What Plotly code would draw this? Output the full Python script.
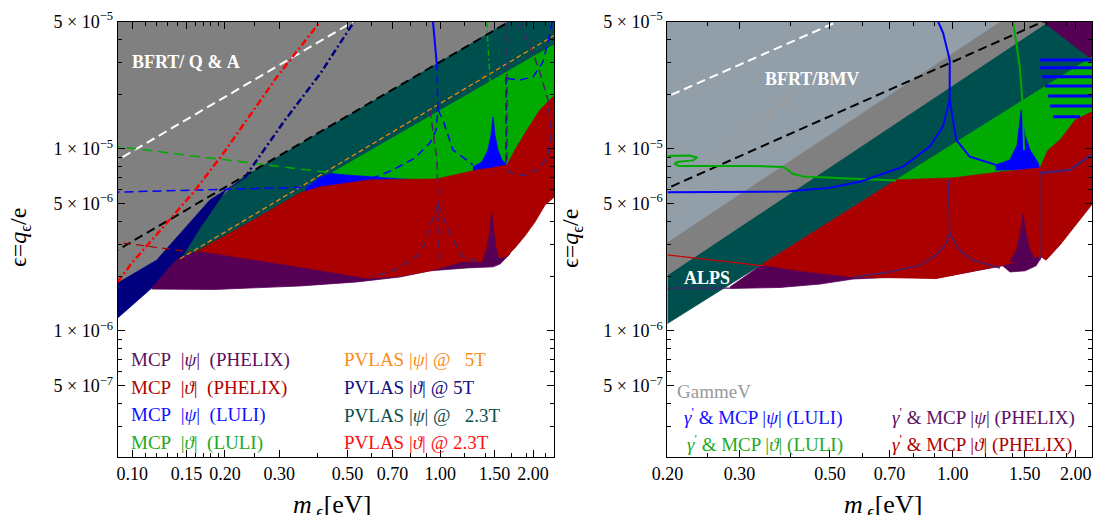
import plotly.graph_objects as go

# ======================= LEFT PANEL =======================
# filled regions: m [eV] and eps = q_eps/e (polygon vertices)
bfrt_qa_m = [0.08, 1.99, 0.2288, 0.1856, 0.1429, 0.0897, 0.08]
bfrt_qa_eps = [6e-5, 6e-5, 7.02e-6, 4.92e-6, 3.16e-6, 1.48e-6, 1.48e-6]

pvlas_psi23_m = [1.99, 2.6, 2.6, 0.445, 0.4069, 0.2411, 0.1562, 0.1376, 0.1212, 0.1185, 0.1277, 0.1539, 0.1856, 0.2288]
pvlas_psi23_eps = [6e-5, 6e-5, 4.14e-5, 7.38e-6, 5.95e-6, 3.78e-6, 2.52e-6, 1.91e-6, 1.77e-6, 1.835e-6, 2.11e-6, 3.16e-6, 5.05e-6, 7.02e-6]

pvlas_th5_m = [0.0847, 0.0897, 0.120, 0.1788, 0.2322, 0.2015, 0.1659, 0.1429, 0.1277, 0.1156, 0.0897, 0.0847]
pvlas_th5_eps = [1.734e-6, 1.835e-6, 2.45e-6, 5.25e-6, 6.93e-6, 5.95e-6, 3.68e-6, 2.45e-6, 1.95e-6, 1.72e-6, 1.179e-6, 1.079e-6]

luli_th_m = [0.445, 2.6, 2.6, 2.322, 2.107, 1.912, 1.748, 1.647, 1.472, 1.3157, 0.9757, 0.5913, 0.445]
luli_th_eps = [7.38e-6, 4.14e-5, 1.5e-5, 1.81e-5, 1.54e-5, 1.19e-5, 9.27e-6, 7.67e-6, 7.38e-6, 7.20e-6, 6.42e-6, 6.34e-6, 6.34e-6]

luli_psi_a_m = [0.3637, 0.4069, 0.445, 0.4905, 0.6047, 0.7397, 0.9757, 0.9757, 0.3637]
luli_psi_a_eps = [6.03e-6, 6.97e-6, 7.33e-6, 7.20e-6, 7.02e-6, 6.84e-6, 6.67e-6, 6.26e-6, 5.80e-6]
luli_psi_b_m = [1.277, 1.3655, 1.428, 1.4605, 1.483, 1.505, 1.539, 1.586, 1.647, 1.647, 1.277]
luli_psi_b_eps = [7.96e-6, 8.48e-6, 9.87e-6, 1.19e-5, 1.50e-5, 1.19e-5, 9.87e-6, 8.70e-6, 8.17e-6, 7.47e-6, 7.47e-6]

phelix_psi_m = [0.1156, 0.1386, 0.1539, 0.2411, 1.562, 1.684, 1.684, 1.562, 1.483, 1.221, 0.926, 0.7397, 0.5366, 0.3504, 0.1843, 0.1156]
phelix_psi_eps = [1.717e-6, 2.45e-6, 2.65e-6, 3.37e-6, 5.25e-6, 3.59e-6, 2.65e-6, 2.33e-6, 2.25e-6, 2.22e-6, 2.14e-6, 1.98e-6, 1.86e-6, 1.767e-6, 1.69e-6, 1.70e-6]

phelix_th_m = [0.1586, 0.2411, 0.3504, 0.4069, 0.5913, 0.9757, 1.3157, 1.472, 1.647, 1.748, 1.912, 2.107, 2.322, 2.54,
               2.54, 2.345, 2.188, 2.030, 1.884, 1.748, 1.647, 1.505, 1.345, 1.194, 0.926, 0.7397, 0.5825, 0.3504, 0.2411, 0.1659]
phelix_th_eps = [2.68e-6, 3.97e-6, 5.73e-6, 6.18e-6, 6.76e-6, 6.84e-6, 7.67e-6, 7.86e-6, 8.17e-6, 9.87e-6, 1.27e-5, 1.64e-5, 1.93e-5, 2.00e-5,
                 5.95e-6, 5.45e-6, 4.92e-6, 3.97e-6, 3.33e-6, 2.86e-6, 2.58e-6, 2.49e-6, 2.39e-6, 2.42e-6, 2.14e-6, 2.00e-6, 1.95e-6, 2.25e-6, 2.49e-6, 2.75e-6]

phelix_psi_spike_m = [1.3655, 1.418, 1.450, 1.4686, 1.489, 1.516, 1.562]
phelix_psi_spike_eps = [2.36e-6, 2.86e-6, 3.59e-6, 4.51e-6, 3.59e-6, 2.86e-6, 2.36e-6]

# boundary lines (left)
bfrt_line_m, bfrt_line_eps = [0.085, 0.55], [8.25e-6, 5.27e-5]
black_line_m, black_line_eps = [0.085, 1.70], [2.645e-6, 5.08e-5]
pvlas_th23_line_m = [0.0897, 0.1005, 0.1597, 0.197, 0.295, 0.4069]
pvlas_th23_line_eps = [1.86e-6, 2.40e-6, 5.9e-6, 9.4e-6, 2.49e-5, 4.99e-5]
pvlas_th5_line_m = [0.2322, 0.2411, 0.3132, 0.4069, 0.5245]
pvlas_th5_line_eps = [6.93e-6, 7.67e-6, 1.44e-5, 2.58e-5, 4.99e-5]
luli_th_line_m, luli_th_line_eps = [0.085, 0.445], [1.042e-5, 7.38e-6]
luli_psi_line_m, luli_psi_line_eps = [0.085, 0.3692], [5.78e-6, 6.16e-6]
pvlas_psi5_line_m, pvlas_psi5_line_eps = [0.1429, 2.357], [2.49e-6, 4.23e-5]
phelix_th_line_m, phelix_th_line_eps = [0.085, 0.1539], [3.11e-6, 2.72e-6]
luli_psi_res_top_m, luli_psi_res_top_eps = [0.947, 0.9735], [4.99e-5, 2.97e-5]
luli_psi_res1_m = [0.9735, 0.9829, 0.9683, 0.926, 0.8277, 0.7022, 0.6047]
luli_psi_res1_eps = [2.97e-5, 1.64e-5, 1.27e-5, 1.08e-5, 8.92e-6, 7.67e-6, 6.93e-6]
luli_psi_res2_m, luli_psi_res2_eps = [0.9829, 1.0203, 1.0995, 1.277], [1.64e-5, 1.44e-5, 9.87e-6, 8.17e-6]
luli_psi_res3_m, luli_psi_res3_eps = [1.634, 1.634], [2.49e-5, 8.07e-6]
luli_psi_res4_m = [1.647, 1.815, 2.0, 2.155, 2.271, 2.306]
luli_psi_res4_eps = [2.44e-5, 2.39e-5, 2.49e-5, 3.01e-5, 4.34e-5, 4.99e-5]
phelix_res1_m = [0.926, 0.947, 0.9757, 0.9829, 0.9829]
phelix_res1_eps = [1.64e-5, 1.27e-5, 8.70e-6, 4.92e-6, 2.3e-6]
phelix_res2_m = [0.9829, 0.947, 0.8919, 0.834, 0.7126, 0.5957]
phelix_res2_eps = [4.92e-6, 4.23e-6, 3.04e-6, 2.55e-6, 2.16e-6, 1.98e-6]
phelix_res3_m = [0.9829, 1.0203, 1.0995, 1.185, 1.345]
phelix_res3_eps = [4.92e-6, 4.23e-6, 3.16e-6, 2.55e-6, 2.39e-6]
phelix_res4_m, phelix_res4_eps = [1.647, 1.647], [5e-5, 8.17e-6]
phelix_res5_m = [1.647, 1.748, 1.912, 2.107, 2.237, 2.288, 2.237, 2.107, 1.956, 1.774]
phelix_res5_eps = [7.67e-6, 7.20e-6, 7.20e-6, 7.86e-6, 9.27e-6, 1.19e-5, 1.86e-5, 2.62e-5, 3.73e-5, 4.99e-5]
luli_th_res_m, luli_th_res_eps = [1.4145, 1.4686], [4.99e-5, 1.64e-5]

# ======================= RIGHT PANEL =======================
gammev_m, gammev_eps = [0.18, 1.9375, 0.18], [6e-5, 6e-5, 1.735e-6]
bfrt_bmv_m, bfrt_bmv_eps = [0.18, 1.473, 0.18], [6e-5, 6e-5, 2.64e-6]
alps_m, alps_eps = [0.18, 2.4, 2.4, 0.18], [6e-5, 6e-5, 3.63e-5, 9.48e-7]
r_phx_psi_top_m = [1.66, 1.66, 2.4, 2.4, 2.195]
r_phx_psi_top_eps = [4.99e-5, 6e-5, 6e-5, 3.08e-5, 3.08e-5]
r_luli_th_m = [0.7263, 2.4, 2.4, 1.9953, 1.831, 1.712, 1.636, 1.3036, 1.0011, 0.7263]
r_luli_th_eps = [6.76e-6, 3.63e-5, 1.5e-5, 1.355e-5, 1.05e-5, 9.27e-6, 7.38e-6, 7.02e-6, 6.50e-6, 6.34e-6]
r_luli_psi_m = [1.2735, 1.380, 1.437, 1.470, 1.503, 1.546, 1.6186, 1.636, 1.2735]
r_luli_psi_eps = [8.17e-6, 8.70e-6, 1.05e-5, 1.64e-5, 1.19e-5, 9.87e-6, 8.38e-6, 7.67e-6, 7.67e-6]
r_phx_psi_m = [0.2846, 0.3449, 0.7434, 1.636, 1.655, 1.599, 1.503, 1.380, 1.3254, 0.9099, 0.7434, 0.570, 0.473, 0.3774, 0.2846]
r_phx_psi_eps = [1.745e-6, 2.36e-6, 3.59e-6, 4.07e-6, 2.58e-6, 2.28e-6, 2.14e-6, 2.11e-6, 2.28e-6, 1.95e-6, 1.98e-6, 1.93e-6, 1.81e-6, 1.734e-6, 1.712e-6]
r_phx_th_m = [0.3449, 0.7263, 1.0011, 1.3036, 1.636, 1.712, 1.831, 1.9953, 2.29, 2.29, 2.207, 1.9953, 1.831, 1.692, 1.636, 1.3254, 0.9099, 0.570, 0.4224, 0.3449]
r_phx_th_eps = [2.36e-6, 6.76e-6, 6.93e-6, 7.47e-6, 7.86e-6, 9.87e-6, 1.12e-5, 1.44e-5, 1.68e-5, 5.25e-6, 5.05e-6, 3.82e-6, 2.97e-6, 2.45e-6, 2.58e-6, 2.30e-6, 1.94e-6, 1.98e-6, 2.14e-6, 2.30e-6]
r_phx_psi_spike_m = [1.380, 1.437, 1.470, 1.486, 1.503, 1.538, 1.599]
r_phx_psi_spike_eps = [2.39e-6, 2.86e-6, 3.68e-6, 4.39e-6, 3.68e-6, 2.86e-6, 2.39e-6]
stripe_eps = [3.08e-5, 2.79e-5, 2.49e-5, 2.22e-5, 1.955e-5, 1.72e-5, 1.50e-5]
stripe_m_start = [1.636, 1.636, 1.655, 1.684, 1.712, 1.731, 1.762]
stripe_m_end = [2.3, 2.3, 2.3, 2.3, 2.3, 2.3, 2.051]

r_white_m, r_white_eps = [0.19, 0.54], [1.845e-5, 5.18e-5]
r_black_m, r_black_eps = [0.19, 1.70], [5.78e-6, 5.11e-5]
r_gray_lines_m = [[0.2, 0.3955], [0.2, 0.3993], [0.2, 0.4032]]
r_gray_lines_eps = [[5.38e-6, 1.98e-5], [4.86e-6, 1.98e-5], [4.39e-6, 1.94e-5]]
r_green_line_m = [0.2, 0.2262, 0.2363, 0.2310, 0.2109, 0.2086, 0.2133, 0.3242, 0.3838, 0.3948, 0.4038, 0.4296, 0.5928, 0.7263]
r_green_line_eps = [9.15e-6, 9.21e-6, 8.98e-6, 8.65e-6, 8.48e-6, 8.27e-6, 8.07e-6, 8.07e-6, 7.96e-6, 7.67e-6, 7.33e-6, 7.06e-6, 6.84e-6, 6.71e-6]
r_green_vert_m, r_green_vert_eps = [1.405, 1.459, 1.486, 1.494], [4.99e-5, 2.83e-5, 1.64e-5, 9.87e-6]
r_blue_line_m = [0.2, 0.3919, 0.4968, 0.5928, 0.7557, 0.8781, 0.9465, 0.9827, 0.9827, 0.9465, 0.9203]
r_blue_line_eps = [5.78e-6, 5.83e-6, 6.11e-6, 6.61e-6, 7.99e-6, 1.03e-5, 1.33e-5, 1.86e-5, 3.08e-5, 4.34e-5, 5.0e-5]
r_blue_line2_m, r_blue_line2_eps = [0.9827, 1.0198, 1.0996, 1.2761], [1.86e-5, 1.12e-5, 9.07e-6, 8.17e-6]
r_purple_line_m = [0.9760, 0.9827, 0.9594, 0.9099, 0.8313, 0.6987, 0.570]
r_purple_line_eps = [6.76e-6, 3.46e-6, 2.97e-6, 2.62e-6, 2.30e-6, 2.11e-6, 1.98e-6]
r_purple_line2_m = [0.9827, 1.0011, 1.0484, 1.119, 1.3036]
r_purple_line2_eps = [3.46e-6, 3.16e-6, 2.72e-6, 2.45e-6, 2.22e-6]
r_purple_line3_m, r_purple_line3_eps = [1.6327, 1.6327], [7.38e-6, 2.45e-6]
r_purple_line4_m, r_purple_line4_eps = [1.6327, 1.935, 2.3], [7.38e-6, 7.67e-6, 1.0e-5]
r_red_line_m, r_red_line_eps = [0.19, 0.3449], [2.65e-6, 2.28e-6]
r_purple_line5_m, r_purple_line5_eps = [0.19, 0.2846], [1.717e-6, 1.72e-6]

# axes ticks
x_ticks = [0.1, 0.15, 0.2, 0.3, 0.5, 0.7, 1.0, 1.5, 2.0]
x_tick_text = ["0.10", "0.15", "0.20", "0.30", "0.50", "0.70", "1.00", "1.50", "2.00"]
x_minor = [0.09, 0.11, 0.12, 0.13, 0.14, 0.16, 0.17, 0.18, 0.19, 0.25, 0.4, 0.6, 0.8, 0.9, 1.2, 1.4, 1.7, 1.9, 2.2]
y_ticks = [5e-5, 1e-5, 5e-6, 1e-6, 5e-7]
y_tick_text = ["5 × 10<sup>−5</sup>", "1 × 10<sup>−5</sup>", "5 × 10<sup>−6</sup>", "1 × 10<sup>−6</sup>", "5 × 10<sup>−7</sup>"]
y_minor = [2e-7, 3e-7, 4e-7, 6e-7, 7e-7, 8e-7, 9e-7, 2e-6, 3e-6, 4e-6, 6e-6, 7e-6, 8e-6, 9e-6, 2e-5, 3e-5, 4e-5]

# colours
C_GRAY = "#808080"; C_LIGHT = "#929ea8"; C_TEAL = "#004f4f"; C_NAVY = "#00007f"
C_GREEN = "#00aa00"; C_BLUE = "#0000ff"; C_RED = "#aa0000"; C_PURPLE = "#550055"
C_RES_PURPLE = "#4a2070"

fig = go.Figure()
L = ("x", "y")
R = ("x2", "y2")


def poly(m, e, color, ax):
    fig.add_trace(go.Scatter(x=m, y=e, mode="lines", fill="toself", fillcolor=color,
                             line=dict(width=0.8, color=color), xaxis=ax[0], yaxis=ax[1],
                             hoverinfo="skip", showlegend=False))


def curve(m, e, color, width, ax, dash="solid"):
    fig.add_trace(go.Scatter(x=m, y=e, mode="lines", line=dict(color=color, width=width, dash=dash),
                             xaxis=ax[0], yaxis=ax[1], hoverinfo="skip", showlegend=False))


# ---- left regions
poly(bfrt_qa_m, bfrt_qa_eps, C_GRAY, L)
poly(pvlas_psi23_m, pvlas_psi23_eps, C_TEAL, L)
poly(pvlas_th5_m, pvlas_th5_eps, C_NAVY, L)
poly(luli_th_m, luli_th_eps, C_GREEN, L)
poly(luli_psi_a_m, luli_psi_a_eps, C_BLUE, L)
poly(luli_psi_b_m, luli_psi_b_eps, C_BLUE, L)
poly(phelix_psi_m, phelix_psi_eps, C_PURPLE, L)
poly(phelix_th_m, phelix_th_eps, C_RED, L)
poly(phelix_psi_spike_m, phelix_psi_spike_eps, C_PURPLE, L)

# ---- left lines
DASH = "9px,5px"
curve(bfrt_line_m, bfrt_line_eps, "white", 2, L, DASH)
curve(black_line_m, black_line_eps, "black", 2, L, DASH)
curve(pvlas_psi5_line_m, pvlas_psi5_line_eps, "#ff8c00", 1.2, L, "5px,3px")
curve(luli_th_line_m, luli_th_line_eps, C_GREEN, 1.5, L, "10px,6px")
curve(luli_psi_line_m, luli_psi_line_eps, C_BLUE, 1.5, L, "9px,5px")
curve(phelix_th_line_m, phelix_th_line_eps, C_RED, 1.2, L, "8px,5px")
curve(luli_psi_res_top_m, luli_psi_res_top_eps, C_BLUE, 2, L)
curve(luli_psi_res1_m, luli_psi_res1_eps, C_BLUE, 1.5, L, "8px,5px")
curve(luli_psi_res2_m, luli_psi_res2_eps, C_BLUE, 1.5, L, "8px,5px")
curve(luli_psi_res3_m, luli_psi_res3_eps, C_BLUE, 1.5, L, "8px,5px")
curve(luli_psi_res4_m, luli_psi_res4_eps, C_BLUE, 1.5, L, "8px,5px")
curve(phelix_res1_m, phelix_res1_eps, C_RES_PURPLE, 1.5, L, "8px,5px")
curve(phelix_res2_m, phelix_res2_eps, C_RES_PURPLE, 1.5, L, "8px,5px")
curve(phelix_res3_m, phelix_res3_eps, C_RES_PURPLE, 1.5, L, "8px,5px")
curve(phelix_res4_m, phelix_res4_eps, C_RES_PURPLE, 1.5, L, "8px,5px")
curve(phelix_res5_m, phelix_res5_eps, C_RES_PURPLE, 1.5, L, "8px,5px")
curve(luli_th_res_m, luli_th_res_eps, C_GREEN, 1.5, L, "6px,3px,2px,3px")
curve(pvlas_th23_line_m, pvlas_th23_line_eps, "#ff0000", 2.5, L, "7px,3px,2px,3px")
curve(pvlas_th5_line_m, pvlas_th5_line_eps, "#000080", 2.5, L, "7px,3px,2px,3px")

# ---- right regions
poly(alps_m, alps_eps, C_TEAL, R)
poly(gammev_m, gammev_eps, C_GRAY, R)
poly(bfrt_bmv_m, bfrt_bmv_eps, C_LIGHT, R)
poly(r_phx_psi_top_m, r_phx_psi_top_eps, C_PURPLE, R)
poly(r_luli_th_m, r_luli_th_eps, C_GREEN, R)
poly(r_luli_psi_m, r_luli_psi_eps, C_BLUE, R)
poly(r_phx_psi_m, r_phx_psi_eps, C_PURPLE, R)
poly(r_phx_th_m, r_phx_th_eps, C_RED, R)
poly(r_phx_psi_spike_m, r_phx_psi_spike_eps, C_PURPLE, R)
for e, m0, m1 in zip(stripe_eps, stripe_m_start, stripe_m_end):
    curve([m0, m1], [e, e], C_BLUE, 3, R)

# ---- right lines
curve(r_white_m, r_white_eps, "white", 2, R, DASH)
for gm, ge in zip(r_gray_lines_m, r_gray_lines_eps):
    curve(gm, ge, "#9c9c9c", 1.5, R, "8px,4px")
curve(r_black_m, r_black_eps, "black", 2, R, DASH)
curve(r_green_line_m, r_green_line_eps, C_GREEN, 2, R)
curve(r_green_vert_m, r_green_vert_eps, C_GREEN, 2, R)
curve(r_blue_line_m, r_blue_line_eps, C_BLUE, 2, R)
curve(r_blue_line2_m, r_blue_line2_eps, C_BLUE, 2, R)
curve(r_purple_line_m, r_purple_line_eps, C_RES_PURPLE, 1.5, R)
curve(r_purple_line2_m, r_purple_line2_eps, C_RES_PURPLE, 1.5, R)
curve(r_purple_line3_m, r_purple_line3_eps, C_RES_PURPLE, 1.5, R)
curve(r_purple_line4_m, r_purple_line4_eps, C_RES_PURPLE, 2.5, R)
curve(r_red_line_m, r_red_line_eps, "#cc0000", 1.2, R)
curve(r_purple_line5_m, r_purple_line5_eps, C_RES_PURPLE, 1.2, R)

# ---- axes
SERIF = "Liberation Serif, DejaVu Serif, Times New Roman, serif"
tick_font = dict(family=SERIF, size=18, color="black")
common = dict(type="log", showline=True, linecolor="black", linewidth=1, mirror="allticks",
              ticks="inside", ticklen=7, tickwidth=1, tickcolor="black", showgrid=False,
              zeroline=False, tickfont=tick_font, automargin=False)
xcommon = dict(tickmode="array", tickvals=x_ticks, ticktext=x_tick_text,
               minor=dict(tickmode="array", tickvals=x_minor, ticks="inside", ticklen=4, tickcolor="black"), **common)
ycommon = dict(tickmode="array", tickvals=y_ticks, ticktext=y_tick_text,
               minor=dict(tickmode="array", tickvals=y_minor, ticks="inside", ticklen=4, tickcolor="black"),
               range=[-6.694, -4.301], domain=[0.1120, 0.9579], **common)

fig.update_layout(
    width=1093, height=515, margin=dict(l=0, r=0, t=0, b=0, pad=0, autoexpand=False),
    paper_bgcolor="white", plot_bgcolor="white", showlegend=False,
    xaxis=dict(domain=[0.1077, 0.5071], range=[-1.0472, 0.370], anchor="y", **xcommon),
    yaxis=dict(anchor="x", **ycommon),
    xaxis2=dict(domain=[0.6107, 0.9991], range=[-0.699, 0.341], anchor="y2", **xcommon),
    yaxis2=dict(anchor="x2", **ycommon),
)

# ---- text annotations
ann = []


def text(x, y, s, color, size=19, xanchor="left", bold=False, angle=0):
    ann.append(dict(x=x, y=y, xref="paper", yref="paper", text=("<b>%s</b>" % s) if bold else s,
                    showarrow=False, xanchor=xanchor, yanchor="middle", textangle=angle,
                    font=dict(family=SERIF, size=size, color=color)))


NB = "\u00a0"
text(0.1706, 0.8796, "BFRT/ Q" + NB + "&amp;" + NB + "A", "white", 18, "center", True)
text(0.7426, 0.8466, "BFRT/BMV", "white", 18, "center", True)
text(0.6466, 0.4596, "ALPS", "white", 18, "center", True)

text(0.1183, 1 - 360 / 515, "MCP" + NB + " |<i>ψ</i>|" + NB + " (PHELIX)", "#5c1060")
text(0.1183, 1 - 387.7 / 515, "MCP" + NB + " |<i>ϑ</i>|" + NB + " (PHELIX)", "#b00000")
text(0.1183, 1 - 415 / 515, "MCP" + NB + " |<i>ψ</i>|" + NB + " (LULI)", "#1010ff")
text(0.1183, 1 - 443.3 / 515, "MCP" + NB + " |<i>ϑ</i>|" + NB + " (LULI)", "#22aa22")
text(0.3126, 1 - 359 / 515, "PVLAS |<i>ψ</i>| @" + NB + NB + " 5T", "#f98e1d")
text(0.3126, 1 - 387.7 / 515, "PVLAS |<i>ϑ</i>| @ 5T", "#101080")
text(0.3126, 1 - 415 / 515, "PVLAS |<i>ψ</i>| @" + NB + NB + " 2.3T", "#104f4f")
text(0.3126, 1 - 442.3 / 515, "PVLAS |<i>ϑ</i>| @ 2.3T", "#ff1010")

text(0.6176, 1 - 391.7 / 515, "GammeV", "#999999")
text(0.6237, 1 - 416.7 / 515, "<i>γ</i><sup>'</sup> &amp; MCP |<i>ψ</i>| (LULI)", "#1010ff")
text(0.6267, 1 - 443.3 / 515, "<i>γ</i><sup>'</sup> &amp; MCP |<i>ϑ</i>| (LULI)", "#22aa22")
text(0.8140, 1 - 416.7 / 515, "<i>γ</i><sup>'</sup> &amp; MCP |<i>ψ</i>| (PHELIX)", "#5c1060")
text(0.8140, 1 - 443.3 / 515, "<i>γ</i><sup>'</sup> &amp; MCP |<i>ϑ</i>| (PHELIX)", "#b00000")

# axis titles
text(0.0183, 1 - 238 / 515, "ϵ=<i>q</i><sub>ϵ</sub>/e", "black", 24, "center", angle=-90)
text(0.5233, 1 - 238 / 515, "ϵ=<i>q</i><sub>ϵ</sub>/e", "black", 24, "center", angle=-90)
text(0.3038, 1 - 506 / 515, "<i>m</i><sub>" + NB + "ϵ</sub>[eV]", "black", 26, "center")
text(0.8079, 1 - 506 / 515, "<i>m</i><sub>" + NB + "ϵ</sub>[eV]", "black", 26, "center")

fig.update_layout(annotations=ann)
fig.write_html("out.html", config={"displayModeBar": False},
               post_script="document.body.style.margin='0px';document.body.style.overflow='hidden';")
